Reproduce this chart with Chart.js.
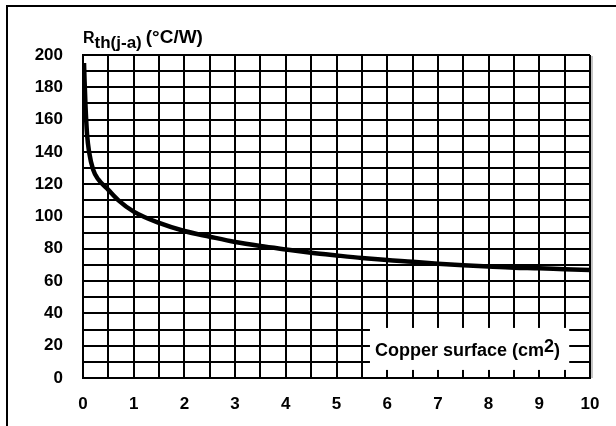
<!DOCTYPE html>
<html>
<head>
<meta charset="utf-8">
<script src="https://cdn.jsdelivr.net/npm/chart.js@4.4.1/dist/chart.umd.min.js"></script>
<style>
    html, body { margin: 0; padding: 0; background: #fff; }
    canvas { display: block; }
</style>
</head>
<body>
<canvas id="rth-chart" width="616" height="426"></canvas>
<script>
// Copper surface (cm2) vs Rth(j-a) (°C/W)
const copperSurface = [0.02, 0.03, 0.05, 0.08, 0.12, 0.2, 0.3, 0.5, 0.7, 1, 1.5, 2, 2.5, 3, 3.5, 4, 4.5, 5, 5.5, 6, 6.5, 7, 7.5, 8, 8.5, 9, 9.5, 10];
const rthValues = [195, 185, 168, 151, 140, 129, 123, 116.5, 110, 103, 96, 91, 87.5, 84.2, 81.7, 79.6, 77.6, 75.9, 74.3, 73, 72, 70.8, 69.8, 69, 68.3, 67.9, 67.3, 66.8];

const xTickLabels = [0, 1, 2, 3, 4, 5, 6, 7, 8, 9, 10];
const yTickLabels = [0, 20, 40, 60, 80, 100, 120, 140, 160, 180, 200];

const FONT = '"Liberation Sans", Arial, Helvetica, sans-serif';

const decorPlugin = {
    id: 'decor',
    beforeDatasetsDraw(chart) {
        const ctx = chart.ctx;
        const x = chart.scales.x;
        const y = chart.scales.y;

        // white box for the x axis title, sitting on the grid
        const left = x.getPixelForValue(5.66);
        const right = x.getPixelForValue(9.59);
        const top = y.getPixelForValue(31);
        const bottom = y.getPixelForValue(5);
        ctx.save();
        ctx.fillStyle = '#fff';
        ctx.fillRect(left, top, right - left, bottom - top);

        ctx.fillStyle = '#000';
        ctx.textBaseline = 'alphabetic';
        ctx.textAlign = 'left';
        ctx.font = 'bold 18px ' + FONT;
        const base = (top + bottom) / 2 + 7;
        let tx = left + 5;
        const main = 'Copper surface (cm';
        ctx.fillText(main, tx, base);
        tx += ctx.measureText(main).width;
        ctx.fillText('2', tx, base - 3.5);
        tx += ctx.measureText('2').width;
        ctx.fillText(')', tx, base);
        ctx.restore();
    },
    afterDraw(chart) {
        const ctx = chart.ctx;
        const area = chart.chartArea;
        ctx.save();

        // frame edges (left and top)
        ctx.strokeStyle = '#000';
        ctx.lineWidth = 2;
        ctx.beginPath();
        ctx.moveTo(7, chart.height);
        ctx.lineTo(7, 6);
        ctx.lineTo(chart.width, 6);
        ctx.stroke();

        // light shadow at the right of the plot
        ctx.strokeStyle = '#b0b0b0';
        ctx.lineWidth = 1.5;
        ctx.beginPath();
        ctx.moveTo(area.right + 2, area.top + 1);
        ctx.lineTo(area.right + 2, area.bottom);
        ctx.stroke();

        // y axis title: Rth(j-a) (°C/W)
        ctx.fillStyle = '#000';
        ctx.textAlign = 'left';
        ctx.textBaseline = 'alphabetic';
        let tx = area.left;
        const base = area.top - 12;
        ctx.font = 'bold 16px ' + FONT;
        ctx.fillText('R', tx, base);
        tx += ctx.measureText('R').width;
        ctx.font = 'bold 17px ' + FONT;
        ctx.fillText('th(j-a)', tx, base + 5);
        tx += ctx.measureText('th(j-a)').width + 4;
        ctx.font = 'bold 19px ' + FONT;
        ctx.fillText('(°C/W)', tx, base);
        ctx.restore();
    }
};

class RthChart {
    constructor() {
        this.chart = null;
        this.init();
    }

    init() {
        const ctx = document.getElementById('rth-chart').getContext('2d');
        const points = copperSurface.map((v, i) => ({ x: v, y: rthValues[i] }));

        this.chart = new Chart(ctx, {
            type: 'scatter',
            data: {
                datasets: [{
                    label: 'Rth(j-a)',
                    data: points,
                    showLine: true,
                    borderColor: '#000',
                    borderWidth: 4.5,
                    pointRadius: 0,
                    cubicInterpolationMode: 'monotone'
                }]
            },
            options: {
                responsive: false,
                animation: false,
                devicePixelRatio: 1,
                layout: {
                    padding: { top: 55, right: 26, bottom: 0, left: 0 }
                },
                scales: {
                    x: {
                        type: 'linear',
                        min: 0,
                        max: 10,
                        afterFit: (scale) => { scale.height = 48; },
                        grid: { color: '#000', lineWidth: 2, drawTicks: false },
                        border: { display: true, color: '#000', width: 2 },
                        ticks: {
                            stepSize: 0.5,
                            autoSkip: false,
                            maxRotation: 0,
                            padding: 16,
                            color: '#000',
                            font: { family: FONT, size: 17, weight: 'bold' },
                            callback: (v) => xTickLabels.includes(v) ? String(v) : ''
                        }
                    },
                    y: {
                        min: 0,
                        max: 200,
                        afterFit: (scale) => { scale.width = 83; },
                        grid: { color: '#000', lineWidth: 2, drawTicks: false },
                        border: { display: true, color: '#000', width: 2 },
                        ticks: {
                            stepSize: 10,
                            autoSkip: false,
                            padding: 20,
                            color: '#000',
                            font: { family: FONT, size: 17, weight: 'bold' },
                            callback: (v) => yTickLabels.includes(v) ? String(v) : ''
                        }
                    }
                },
                plugins: {
                    legend: { display: false },
                    title: { display: false },
                    tooltip: { enabled: false }
                }
            },
            plugins: [decorPlugin]
        });
    }
}

document.addEventListener('DOMContentLoaded', () => {
    window.rthChart = new RthChart();
});
</script>
</body>
</html>
